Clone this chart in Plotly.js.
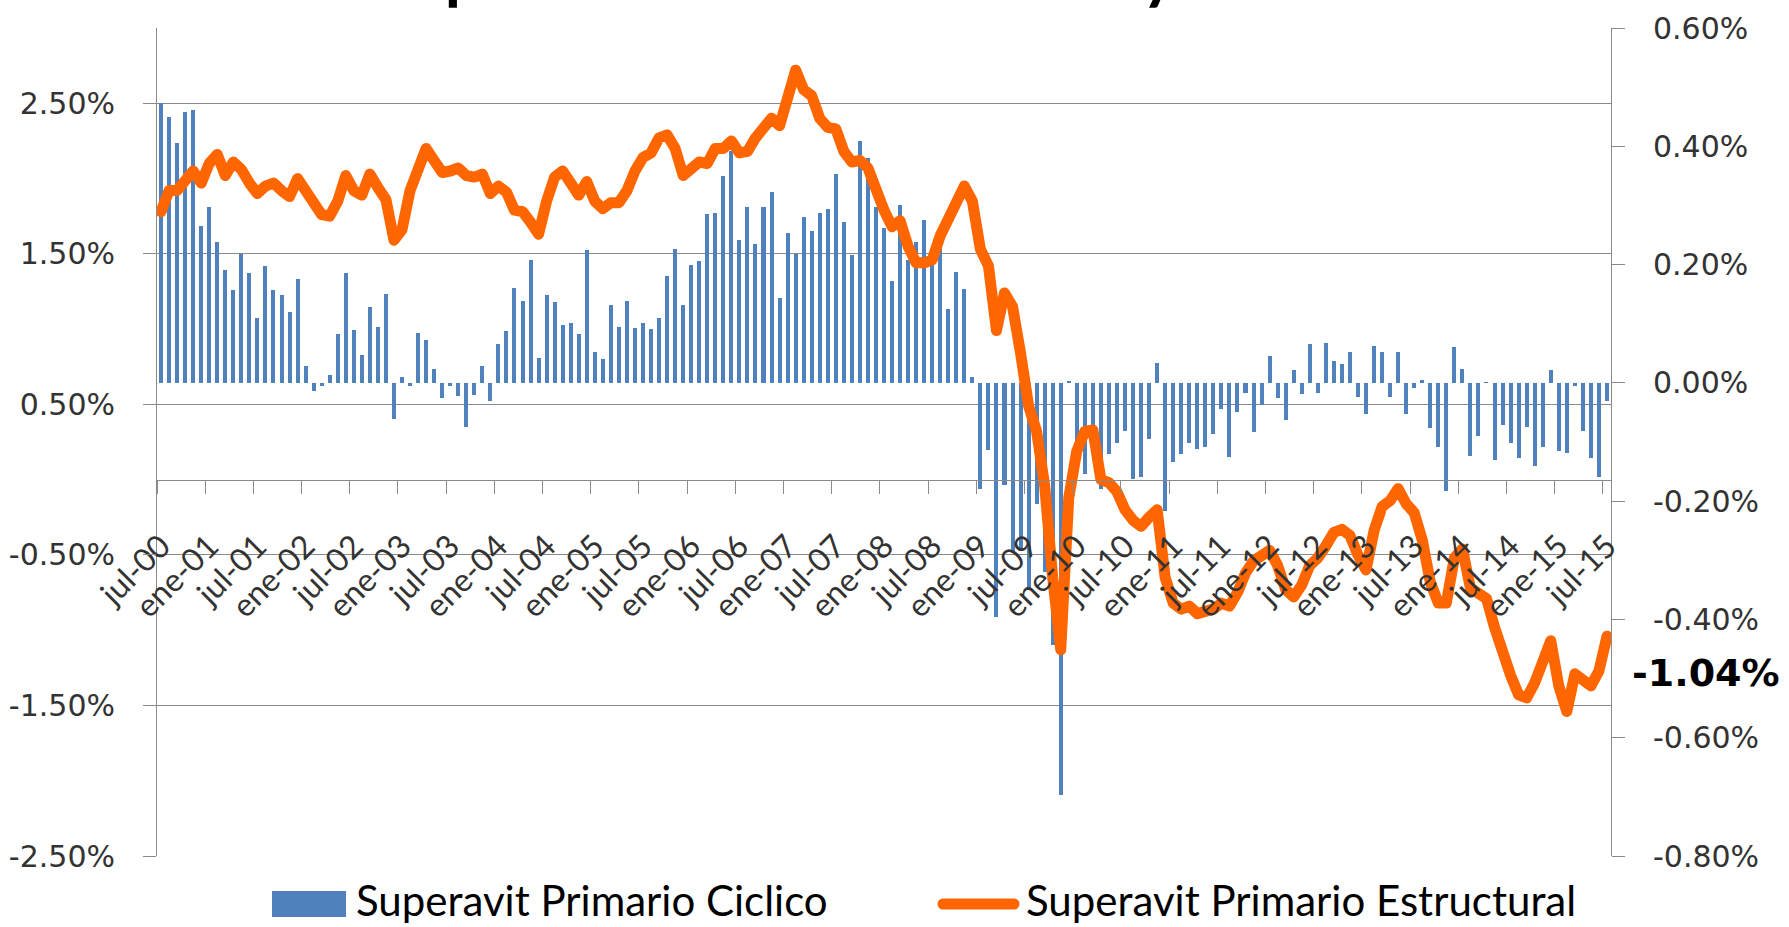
<!DOCTYPE html>
<html><head><meta charset="utf-8">
<script src="https://cdn.plot.ly/plotly-3.0.1.min.js"></script>
<style>
html,body{margin:0;padding:0;background:#fff;}
#chart{width:1789px;height:927px;}
.js-line{stroke-linejoin:round;stroke-linecap:round;}
.shapelayer path{stroke-linecap:round;}
</style></head><body><div id="chart"></div>
<script>
// Category tick labels (every 6 months, jul-00 .. jul-15)
const xTickLabels = ['jul-00','ene-01','jul-01','ene-02','jul-02','ene-03','jul-03','ene-04','jul-04','ene-05',
  'jul-05','ene-06','jul-06','ene-07','jul-07','ene-08','jul-08','ene-09','jul-09','ene-10',
  'jul-10','ene-11','jul-11','ene-12','jul-12','ene-13','jul-13','ene-14','jul-14','ene-15','jul-15'];

// Superavit Primario Ciclico (%), monthly jul-00 .. jul-15 (right axis)
const ciclico = [
 0.474,0.449,0.406,0.458,0.462,0.265,0.297,0.238,0.190,0.157,0.218,0.186,
 0.110,0.198,0.157,0.148,0.119,0.176,0.028,-0.014,-0.005,0.014,0.082,0.185,
 0.089,0.047,0.129,0.094,0.151,-0.061,0.010,-0.005,0.084,0.072,0.023,-0.026,
 -0.005,-0.023,-0.074,-0.020,0.028,-0.031,0.066,0.088,0.161,0.139,0.207,0.042,
 0.148,0.136,0.098,0.102,0.082,0.225,0.053,0.041,0.131,0.094,0.139,0.092,
 0.101,0.091,0.110,0.181,0.227,0.131,0.200,0.206,0.285,0.288,0.350,0.392,
 0.241,0.297,0.234,0.297,0.323,0.144,0.253,0.218,0.281,0.256,0.288,0.294,
 0.353,0.272,0.217,0.409,0.381,0.297,0.261,0.172,0.300,0.208,0.238,0.275,
 0.207,0.238,0.125,0.188,0.159,0.010,-0.180,-0.113,-0.396,-0.172,-0.285,-0.285,
 -0.351,-0.204,-0.319,-0.444,-0.697,0.003,-0.138,-0.154,-0.083,-0.179,-0.120,-0.101,
 -0.081,-0.162,-0.159,-0.095,0.034,-0.217,-0.133,-0.120,-0.101,-0.111,-0.108,-0.086,
 -0.044,-0.126,-0.049,-0.017,-0.083,-0.038,0.046,-0.026,-0.063,0.021,-0.018,0.066,
 -0.017,0.068,0.037,0.032,0.053,-0.024,-0.052,0.063,0.053,-0.024,0.053,-0.052,
 -0.008,0.005,-0.076,-0.108,-0.183,0.060,0.024,-0.124,-0.090,0.002,-0.130,-0.072,
 -0.101,-0.127,-0.074,-0.140,-0.108,0.021,-0.115,-0.118,-0.005,-0.081,-0.127,-0.159,
 -0.031];

// Superavit Primario Estructural (%), monthly jul-00 .. jul-15 (left axis)
const estructural = [
 1.78,1.92,1.92,1.99,2.05,1.97,2.10,2.16,2.02,2.11,2.06,1.97,
 1.90,1.95,1.97,1.92,1.88,2.00,1.92,1.85,1.76,1.75,1.85,2.02,
 1.92,1.89,2.03,1.94,1.86,1.59,1.66,1.92,2.08,2.20,2.12,2.04,
 2.05,2.07,2.02,2.01,2.03,1.90,1.95,1.91,1.79,1.78,1.71,1.63,
 1.85,2.01,2.05,1.96,1.89,1.98,1.85,1.80,1.84,1.84,1.92,2.05,
 2.14,2.17,2.27,2.29,2.20,2.02,2.06,2.11,2.10,2.20,2.20,2.25,
 2.17,2.18,2.27,2.33,2.40,2.35,2.56,2.72,2.59,2.55,2.40,2.34,
 2.33,2.18,2.11,2.12,2.07,1.90,1.79,1.68,1.72,1.55,1.44,1.44,
 1.46,1.62,1.72,1.85,1.95,1.85,1.53,1.42,0.99,1.24,1.15,0.84,
 0.49,0.32,-0.04,-0.65,-1.13,-0.12,0.19,0.32,0.33,0.00,-0.02,-0.08,
 -0.20,-0.27,-0.31,-0.25,-0.20,-0.65,-0.82,-0.86,-0.84,-0.89,-0.88,-0.86,
 -0.82,-0.84,-0.75,-0.62,-0.54,-0.50,-0.47,-0.57,-0.73,-0.78,-0.70,-0.57,
 -0.52,-0.44,-0.35,-0.33,-0.37,-0.50,-0.60,-0.34,-0.18,-0.14,-0.06,-0.16,
 -0.22,-0.40,-0.68,-0.82,-0.82,-0.52,-0.46,-0.72,-0.75,-0.79,-0.98,-1.16,
 -1.30,-1.43,-1.45,-1.35,-1.23,-1.07,-1.37,-1.54,-1.29,-1.34,-1.37,-1.27,
 -1.04];

const leftTickVals = [2.5,1.5,0.5,-0.5,-1.5,-2.5];
const leftTickText = ['2.50%','1.50%','0.50%','-0.50%','-1.50%','-2.50%'];
const rightTickVals = [0.6,0.4,0.2,0,-0.2,-0.4,-0.6,-0.8];
const rightTickText = ['0.60%','0.40%','0.20%','0.00%','-0.20%','-0.40%','-0.60%','-0.80%'];
const seriesNames = ['Superavit Primario Ciclico','Superavit Primario Estructural'];
const lastValueLabel = '-1.04%';
const titleText = 'Superavit Primario Ciclico y Estructural';

const leftRange = [-2.5, 3.0];
const rightRange = [-0.8, 0.6];
const xIdx = ciclico.map((_, i) => i);
const tickPos = xTickLabels.map((_, k) => k * 6);
const boundaryPos = xTickLabels.map((_, k) => k * 6 - 0.5);

const W = 1789, H = 927, ML = 157, MR = 178, MT = 28, MB = 71;
const PW = W - ML - MR, PH = H - MT - MB;
const px = x => (x - ML) / PW;
const py = y => (H - MB - y) / PH;

const grey = '#8a8a8a';
const txt = '#333333';
const blue = '#4f81bd';
const orange = '#ff6600';

const traces = [
  {type: 'bar', x: xIdx, y: ciclico, yaxis: 'y', xaxis: 'x', name: seriesNames[0],
   marker: {color: blue, line: {width: 0}}, width: 0.5, showlegend: false},
  {type: 'scatter', mode: 'lines', x: xIdx, y: estructural, yaxis: 'y2', xaxis: 'x', name: seriesNames[1],
   line: {color: orange, width: 11}, showlegend: false}
];

const layout = {
  width: W, height: H,
  margin: {l: ML, r: MR, t: MT, b: MB, pad: 0},
  paper_bgcolor: '#ffffff', plot_bgcolor: '#ffffff',
  showlegend: false,
  bargap: 0,
  xaxis: {
    range: [-0.5, ciclico.length - 0.5],
    anchor: 'free',
    position: (0 - leftRange[0]) / (leftRange[1] - leftRange[0]),
    showline: true, linecolor: grey, linewidth: 1,
    showgrid: false, zeroline: false,
    tickmode: 'array', tickvals: tickPos, ticktext: xTickLabels,
    ticks: 'outside', ticklen: 34, tickcolor: 'rgba(0,0,0,0)',
    tickangle: -45,
    tickfont: {family: 'Lato, sans-serif', size: 32, color: txt},
    minor: {tickmode: 'array', tickvals: boundaryPos, ticks: 'outside', ticklen: 13,
            tickcolor: grey, tickwidth: 1, showgrid: false}
  },
  yaxis: {
    range: rightRange, side: 'right', anchor: 'x',
    showline: true, linecolor: grey, linewidth: 1,
    showgrid: false, zeroline: false,
    tickmode: 'array', tickvals: rightTickVals, ticktext: rightTickText,
    ticks: 'outside', ticklen: 13, tickcolor: grey,
    ticklabelstandoff: 22,
    tickfont: {family: 'DejaVu Sans, sans-serif', size: 30, color: txt}
  },
  yaxis2: {
    range: leftRange, side: 'left', overlaying: 'y', anchor: 'x',
    showline: true, linecolor: grey, linewidth: 1,
    showgrid: true, gridcolor: grey, gridwidth: 1, zeroline: false,
    tickmode: 'array', tickvals: leftTickVals, ticktext: leftTickText,
    ticks: 'outside', ticklen: 13, tickcolor: grey,
    ticklabelstandoff: 22,
    tickfont: {family: 'DejaVu Sans, sans-serif', size: 30, color: txt}
  },
  shapes: [
    {type: 'rect', xref: 'paper', yref: 'paper', x0: px(272), x1: px(346), y0: py(917), y1: py(891),
     fillcolor: blue, line: {width: 0}},
    {type: 'line', xref: 'paper', yref: 'paper', x0: px(943), x1: px(1014), y0: py(904), y1: py(904),
     line: {color: orange, width: 11}}
  ],
  annotations: [
    {xref: 'paper', yref: 'paper', x: px(354), y: py(900), xanchor: 'left', yanchor: 'middle',
     text: seriesNames[0], showarrow: false, font: {family: 'Lato, sans-serif', size: 42, color: '#000'}},
    {xref: 'paper', yref: 'paper', x: px(1024), y: py(900), xanchor: 'left', yanchor: 'middle',
     text: seriesNames[1], showarrow: false, font: {family: 'Lato, sans-serif', size: 42, color: '#000'}},
    {xref: 'paper', yref: 'paper', x: px(1706), y: py(673), xanchor: 'center', yanchor: 'middle',
     text: '<b>' + lastValueLabel + '</b>', showarrow: false,
     font: {family: 'DejaVu Sans, sans-serif', size: 38, color: '#000'}},
    {xref: 'paper', yref: 'paper', x: px(370), y: py(12), xanchor: 'left', yanchor: 'bottom',
     text: '<b>' + titleText + '</b>', showarrow: false,
     font: {family: 'Lato, sans-serif', size: 66, color: '#000'}}
  ]
};

Plotly.newPlot('chart', traces, layout, {staticPlot: true, displayModeBar: false});
</script>
</body></html>
